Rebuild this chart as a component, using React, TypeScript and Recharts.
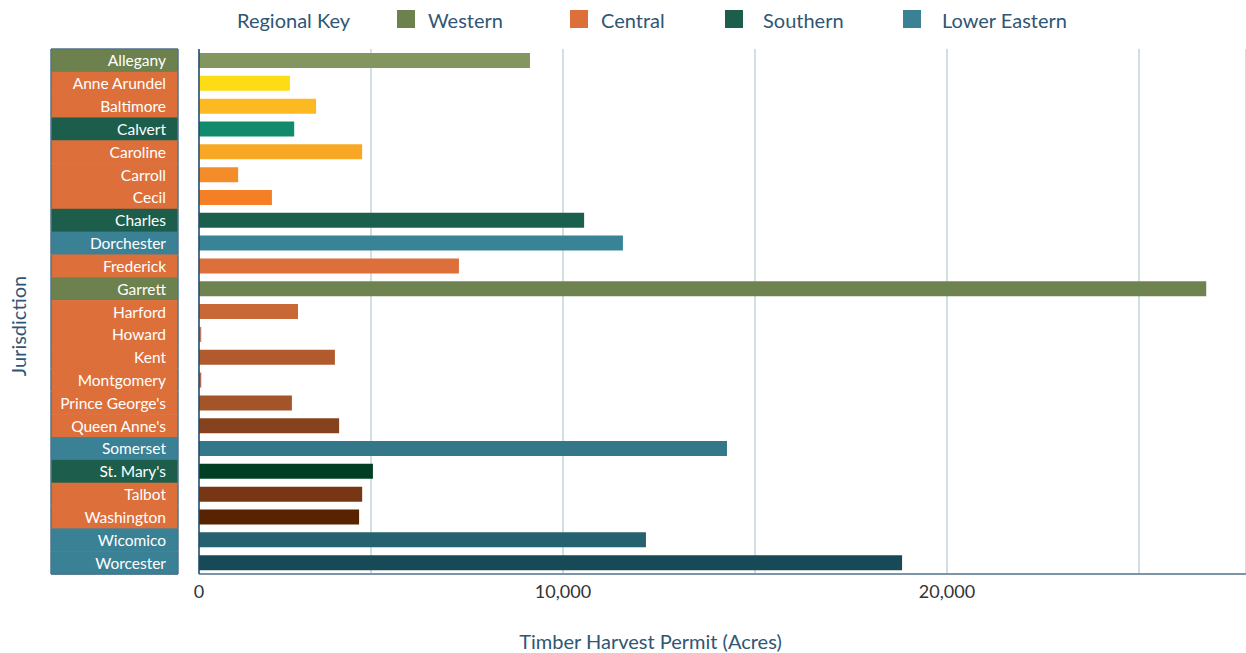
import React, { Fragment } from "react";
import { Bar, BarChart, CartesianGrid, Cell, XAxis, YAxis } from "recharts";

const FONT = "Lato, 'Open Sans', sans-serif";
const TITLE_COLOR = "#2f5674";

// regions and their key colours
const regions = ["Western", "Central", "Southern", "Lower Eastern"];
const regionColors = ["#6d814e", "#dc6f3a", "#1c5e4b", "#3a8196"];

const jurisdictions = [
  "Allegany", "Anne Arundel", "Baltimore", "Calvert", "Caroline", "Carroll",
  "Cecil", "Charles", "Dorchester", "Frederick", "Garrett", "Harford",
  "Howard", "Kent", "Montgomery", "Prince George's", "Queen Anne's",
  "Somerset", "St. Mary's", "Talbot", "Washington", "Wicomico", "Worcester",
];
const jurisdictionRegion = [
  "Western", "Central", "Central", "Southern", "Central", "Central",
  "Central", "Southern", "Lower Eastern", "Central", "Western", "Central",
  "Central", "Central", "Central", "Central", "Central",
  "Lower Eastern", "Southern", "Central", "Central", "Lower Eastern", "Lower Eastern",
];
// acres
const acres = [
  9140, 2890, 3570, 3000, 4770, 1540,
  2420, 10550, 11560, 7290, 26750, 3100,
  580, 4060, 580, 2940, 4170,
  14270, 5050, 4770, 4690, 12160, 18830,
];
const barColors = [
  "#84965f", "#fedc15", "#fdb921", "#118b6b", "#f9a825", "#f58c2a",
  "#f47f24", "#1b604c", "#388396", "#dd6f3a", "#6e834f", "#c86836",
  "#c77a66", "#b05a2e", "#b06a50", "#a35429", "#86421c",
  "#337789", "#003f23", "#773614", "#572300", "#25616f", "#174957",
];

const xDomain = [521, 27786];
const xTicks = [521, 5000, 10000, 15000, 20000, 25000];
const xTickLabels = ["0", "", "10,000", "", "20,000", ""];

const data = jurisdictions.map((name, i) => ({
  name,
  acres: acres[i],
  region: jurisdictionRegion[i],
}));

const PLOT_TOP = 49;
const PLOT_BOTTOM = 574;
const ROW_H = (PLOT_BOTTOM - PLOT_TOP) / jurisdictions.length;
const BOX_L = 51;
const BOX_R = 178;
const BOX_BORDER = "#52728c";

const JurisdictionTick = (props: any) => {
  const { y, payload } = props;
  const i = jurisdictions.indexOf(payload.value);
  const color = regionColors[regions.indexOf(jurisdictionRegion[i])];
  const top = y - ROW_H / 2;
  const bottom = y + ROW_H / 2;
  return (
    <g>
      <rect x={BOX_L} y={top} width={BOX_R - BOX_L} height={ROW_H + 0.6} fill={color} />
      <line x1={BOX_L} x2={BOX_L} y1={top} y2={bottom} stroke={BOX_BORDER} strokeWidth={1.5} />
      <line x1={BOX_R} x2={BOX_R} y1={top} y2={bottom} stroke={BOX_BORDER} strokeWidth={1.5} />
      {i === 0 && <line x1={BOX_L} x2={BOX_R} y1={top} y2={top} stroke={BOX_BORDER} strokeWidth={1.5} />}
      {i === jurisdictions.length - 1 && (
        <line x1={BOX_L} x2={BOX_R} y1={bottom} y2={bottom} stroke={BOX_BORDER} strokeWidth={1.5} />
      )}
      <text
        x={166}
        y={y}
        textAnchor="end"
        dominantBaseline="central"
        fill="#ffffff"
        fontSize={15.5}
        fontFamily={FONT}
      >
        {payload.value}
      </text>
    </g>
  );
};

const XTitle = (props: any) => {
  const { viewBox } = props;
  return (
    <text
      x={viewBox.x + viewBox.width / 2 - 72}
      y={viewBox.y + viewBox.height - 12}
      textAnchor="middle"
      dominantBaseline="central"
      fill={TITLE_COLOR}
      fontSize={20}
      fontFamily={FONT}
    >
      Timber Harvest Permit (Acres)
    </text>
  );
};

const YTitle = () => (
  <text
    x={18}
    y={326}
    transform="rotate(-90 18 326)"
    textAnchor="middle"
    dominantBaseline="central"
    fill={TITLE_COLOR}
    fontSize={20}
    fontFamily={FONT}
  >
    Jurisdiction
  </text>
);

const legendItems = [
  { name: "Western", swatch: 397, text: 428 },
  { name: "Central", swatch: 570, text: 601 },
  { name: "Southern", swatch: 725, text: 763 },
  { name: "Lower Eastern", swatch: 903, text: 942 },
];

const RegionalKey = () => (
  <div style={{ position: "absolute", left: 0, top: 0, width: 1246, height: 40, fontFamily: FONT, color: TITLE_COLOR, fontSize: 20 }}>
    <div style={{ position: "absolute", left: 237, top: 7, lineHeight: "26px" }}>Regional Key</div>
    {legendItems.map((item) => (
      <Fragment key={item.name}>
        <div
          style={{
            position: "absolute",
            left: item.swatch,
            top: 10,
            width: 18,
            height: 18,
            background: regionColors[regions.indexOf(item.name)],
          }}
        />
        <div style={{ position: "absolute", left: item.text, top: 7, lineHeight: "26px" }}>{item.name}</div>
      </Fragment>
    ))}
  </div>
);

const App = () => {
  return (
    <div style={{ position: "absolute", left: 0, top: 0, width: 1246, height: 653, background: "#fff" }}>
      <BarChart
        width={1246}
        height={653}
        data={data}
        layout="vertical"
        margin={{ top: PLOT_TOP, right: 0, bottom: 0, left: 0 }}
      >
        <CartesianGrid horizontal={false} stroke="#c3d5dc" strokeWidth={1.5} />
        <XAxis
          type="number"
          domain={xDomain}
          ticks={xTicks}
          allowDataOverflow
          tickFormatter={(v: number) => xTickLabels[xTicks.indexOf(v)] ?? ""}
          tickLine={false}
          tickSize={0}
          tickMargin={11}
          axisLine={{ stroke: "#7d93a6", strokeWidth: 2 }}
          height={653 - PLOT_BOTTOM}
          tick={{ fill: "#333333", fontSize: 18, fontFamily: FONT }}
          label={<XTitle />}
        />
        <XAxis
          xAxisId="top"
          orientation="top"
          type="number"
          domain={xDomain}
          allowDataOverflow
          height={0}
          tick={false}
          tickLine={false}
          axisLine={{ stroke: "#7d93a6", strokeWidth: 2 }}
        />
        <YAxis
          type="category"
          dataKey="name"
          width={199}
          interval={0}
          tickLine={false}
          axisLine={{ stroke: "#1f4a6e", strokeWidth: 1.5 }}
          tick={<JurisdictionTick />}
          label={<YTitle />}
        />
        <Bar dataKey="acres" barSize={15} isAnimationActive={false}>
          {data.map((d, i) => (
            <Cell key={d.name} fill={barColors[i]} />
          ))}
        </Bar>
      </BarChart>
      <RegionalKey />
    </div>
  );
};

export default App;
